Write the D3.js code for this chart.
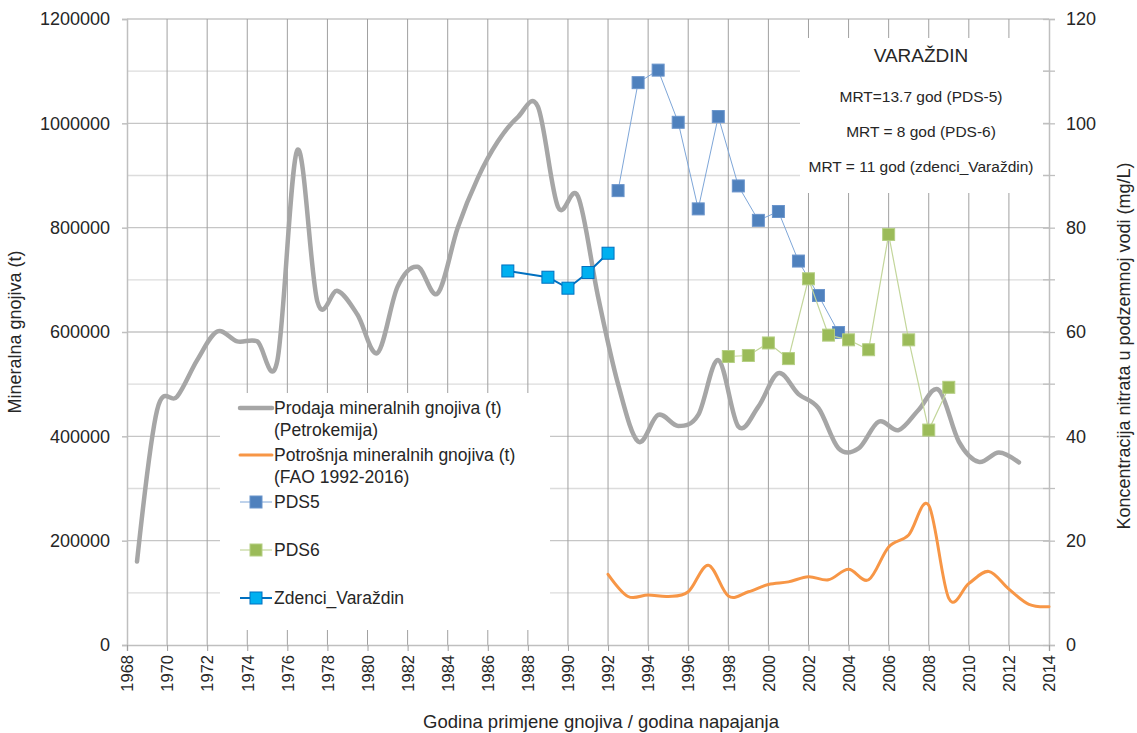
<!DOCTYPE html>
<html>
<head>
<meta charset="utf-8">
<script src="https://cdn.jsdelivr.net/npm/d3@7"></script>
<style>
  html, body { margin: 0; padding: 0; background: #fff; }
  svg { display: block; font-family: "Liberation Sans", Arial, sans-serif; }
</style>
</head>
<body>
<svg id="chart" width="1137" height="733"></svg>
<script>
// Sales of mineral fertiliser (Petrokemija), tonnes, mid-year points 1968.5–2012.5
const salesYears = d3.range(1968.5, 2013, 1);
const salesValues = [
  160000, 450000, 476000, 546000, 601000, 582000, 582000, 545000, 949000, 658000,
  679000, 633000, 560000, 687000, 725000, 674000, 800000, 895000, 965000, 1012000,
  1032000, 840000, 860000, 668000, 500000, 390000, 441000, 420000, 441000, 546000,
  419000, 457000, 521000, 481000, 454000, 377000, 377000, 428000, 412000, 451000,
  489000, 390000, 351000, 369000, 350000
];

// Fertiliser consumption (FAO), tonnes, 1992–2014
const faoYears = d3.range(1992, 2015, 1);
const faoValues = [
  135500, 93000, 96000, 93000, 102000, 153000, 94000, 102000, 116000, 121000,
  131000, 125000, 145000, 125000, 188000, 211000, 268000, 89500, 118000, 141000,
  107000, 78000, 73500
];

// Nitrate concentration in groundwater, mg/L
const pds5Years = d3.range(1992.5, 2004, 1);
const pds5Values = [87.1, 107.8, 110.2, 100.2, 83.6, 101.3, 88.0, 81.4, 83.1, 73.6, 67.0, 59.9];

const pds6Years = d3.range(1998, 2010, 1);
const pds6Values = [55.3, 55.5, 57.9, 54.9, 70.2, 59.4, 58.5, 56.6, 78.7, 58.5, 41.2, 49.4];

const wellYears = [1987, 1989, 1990, 1991, 1992];
const wellValues = [71.7, 70.5, 68.4, 71.4, 75.1];

// Axis ticks
const xTicks = d3.range(1968, 2015, 2);
const leftTicks = d3.range(0, 1200001, 200000);
const rightTicks = d3.range(0, 121, 20);

// Text
const legendLabels = [
  ["Prodaja mineralnih gnojiva (t)", "(Petrokemija)"],
  ["Potrošnja mineralnih gnojiva (t)", "(FAO 1992-2016)"],
  ["PDS5"],
  ["PDS6"],
  ["Zdenci_Varaždin"]
];
const boxTitle = "VARAŽDIN";
const boxLines = ["MRT=13.7 god (PDS-5)", "MRT = 8 god (PDS-6)", "MRT = 11 god (zdenci_Varaždin)"];

const svg = d3.select("#chart");
const m = { left: 127, right: 1049, top: 19, bottom: 645 };
const ink = "#262626";

const x = d3.scaleLinear().domain([1968, 2014]).range([m.left, m.right]);
const yL = d3.scaleLinear().domain([0, 1200000]).range([m.bottom, m.top]);
const yR = d3.scaleLinear().domain([0, 120]).range([m.bottom, m.top]);

// Horizontal gridlines every 100000
svg.append("g").selectAll("line")
  .data(d3.range(100000, 1200001, 100000))
  .join("line")
  .attr("x1", m.left).attr("x2", m.right)
  .attr("y1", d => yL(d)).attr("y2", d => yL(d))
  .attr("stroke", d => d % 200000 === 0 ? "#c6c6c6" : "#dcdcdc")
  .attr("stroke-width", 1.3);

// Vertical gridlines every two years
svg.append("g").selectAll("line")
  .data(xTicks.slice(1, -1))
  .join("line")
  .attr("x1", d => x(d)).attr("x2", d => x(d))
  .attr("y1", m.top).attr("y2", m.bottom)
  .attr("stroke", "#a0a0a0")
  .attr("stroke-width", 1);

// Left axis
const gL = svg.append("g").attr("transform", `translate(${m.left},0)`)
  .call(d3.axisLeft(yL).tickValues(leftTicks).tickFormat(d3.format("d")).tickSize(5).tickPadding(12));
gL.select(".domain").attr("stroke", "#bfbfbf").attr("stroke-width", 1.5);
gL.selectAll(".tick line").attr("stroke", "#bfbfbf").attr("stroke-width", 1.5);
gL.selectAll(".tick text").attr("font-size", 18).attr("fill", ink)
  .attr("font-family", "Liberation Sans, Arial, sans-serif");

// Right axis with minor ticks
const gR = svg.append("g").attr("transform", `translate(${m.right},0)`)
  .call(d3.axisRight(yR).tickValues(rightTicks).tickSize(6).tickPadding(11));
gR.select(".domain").attr("stroke", "#bfbfbf").attr("stroke-width", 1.5);
gR.selectAll(".tick line").attr("stroke", "#bfbfbf").attr("stroke-width", 1.3).attr("x1", -6);
gR.selectAll(".tick text").attr("font-size", 18).attr("fill", ink)
  .attr("font-family", "Liberation Sans, Arial, sans-serif");
gR.append("g").selectAll("line")
  .data(d3.range(10, 120, 20))
  .join("line")
  .attr("x1", -6).attr("x2", 6)
  .attr("y1", d => yR(d)).attr("y2", d => yR(d))
  .attr("stroke", "#bfbfbf").attr("stroke-width", 1.3);

// Bottom axis with rotated year labels
const gB = svg.append("g").attr("transform", `translate(0,${m.bottom})`)
  .call(d3.axisBottom(x).tickValues(xTicks).tickFormat(d3.format("d")).tickSize(6).tickPadding(10));
gB.select(".domain").attr("stroke", "#bfbfbf").attr("stroke-width", 1.5);
gB.selectAll(".tick line").attr("stroke", "#a0a0a0").attr("stroke-width", 1);
gB.selectAll(".tick text")
  .attr("font-size", 16.5).attr("fill", ink)
  .attr("font-family", "Liberation Sans, Arial, sans-serif")
  .attr("text-anchor", "end")
  .attr("transform", "rotate(-90)")
  .attr("x", -10).attr("y", 0).attr("dy", "0.35em");

// Axis titles
svg.append("text")
  .attr("transform", `translate(21,${(m.top + m.bottom) / 2}) rotate(-90)`)
  .attr("text-anchor", "middle").attr("font-size", 18).attr("fill", ink)
  .text("Mineralna gnojiva (t)");
svg.append("text")
  .attr("transform", `translate(1130,${(m.top + m.bottom) / 2 + 14}) rotate(-90)`)
  .attr("text-anchor", "middle").attr("font-size", 18).attr("fill", ink)
  .text("Koncentracija nitrata u podzemnoj vodi (mg/L)");
svg.append("text")
  .attr("x", 601).attr("y", 728)
  .attr("text-anchor", "middle").attr("font-size", 18.5).attr("fill", ink)
  .text("Godina primjene gnojiva / godina napajanja");

// Text box with MRT values
const tb = svg.append("g");
tb.append("rect").attr("x", 800).attr("y", 38).attr("width", 243).attr("height", 155).attr("fill", "#fff");
tb.append("text").attr("x", 921).attr("y", 62).attr("text-anchor", "middle")
  .attr("font-size", 19).attr("fill", ink).text(boxTitle);
tb.selectAll("text.mrt").data(boxLines).join("text").attr("class", "mrt")
  .attr("x", 921).attr("y", (d, i) => 102 + i * 35)
  .attr("text-anchor", "middle").attr("font-size", 15.5).attr("fill", ink)
  .text(d => d);

// Lines
const smooth = d3.curveCardinal.tension(0);
const salesLine = d3.line().x((d, i) => x(salesYears[i])).y(d => yL(d)).curve(smooth);
const faoLine = d3.line().x((d, i) => x(faoYears[i])).y(d => yL(d)).curve(smooth);

svg.append("path").datum(salesValues).attr("d", salesLine)
  .attr("fill", "none").attr("stroke", "#a6a6a6").attr("stroke-width", 4.5)
  .attr("stroke-linejoin", "round").attr("stroke-linecap", "round");
svg.append("path").datum(faoValues).attr("d", faoLine)
  .attr("fill", "none").attr("stroke", "#f79646").attr("stroke-width", 3)
  .attr("stroke-linejoin", "round").attr("stroke-linecap", "round");

function markerSeries(years, values, lineColor, lineWidth, fill, stroke, size) {
  const g = svg.append("g");
  const ln = d3.line().x((d, i) => x(years[i])).y(d => yR(d));
  g.append("path").datum(values).attr("d", ln)
    .attr("fill", "none").attr("stroke", lineColor).attr("stroke-width", lineWidth);
  g.selectAll("rect").data(values).join("rect")
    .attr("x", (d, i) => x(years[i]) - size / 2)
    .attr("y", d => yR(d) - size / 2)
    .attr("width", size).attr("height", size)
    .attr("fill", fill).attr("stroke", stroke).attr("stroke-width", 1);
}
markerSeries(pds5Years, pds5Values, "#7ea6d8", 1, "#4f81bd", "#6b95cc", 12);
markerSeries(pds6Years, pds6Values, "#c3d69b", 1.2, "#9bbb59", "#b5cf84", 12);
markerSeries(wellYears, wellValues, "#0070c0", 2, "#00b0f0", "#0070c0", 12);

// Legend
const lg = svg.append("g");
lg.append("rect").attr("x", 220).attr("y", 393).attr("width", 330).attr("height", 237).attr("fill", "#fff");
const rowY = [408, 455, 502, 550, 598];
const swatchX0 = 240, swatchX1 = 272, textX = 274;
lg.append("line").attr("x1", swatchX0).attr("x2", swatchX1).attr("y1", rowY[0]).attr("y2", rowY[0])
  .attr("stroke", "#a6a6a6").attr("stroke-width", 4.5).attr("stroke-linecap", "round");
lg.append("line").attr("x1", swatchX0).attr("x2", swatchX1).attr("y1", rowY[1]).attr("y2", rowY[1])
  .attr("stroke", "#f79646").attr("stroke-width", 3).attr("stroke-linecap", "round");
const mk = [
  ["#7ea6d8", 1, "#4f81bd", "#6b95cc"],
  ["#c3d69b", 1.2, "#9bbb59", "#b5cf84"],
  ["#0070c0", 2, "#00b0f0", "#0070c0"]
];
mk.forEach((s, k) => {
  const yy = rowY[k + 2];
  lg.append("line").attr("x1", swatchX0).attr("x2", swatchX1).attr("y1", yy).attr("y2", yy)
    .attr("stroke", s[0]).attr("stroke-width", s[1]);
  lg.append("rect").attr("x", (swatchX0 + swatchX1) / 2 - 6).attr("y", yy - 6)
    .attr("width", 12).attr("height", 12).attr("fill", s[2]).attr("stroke", s[3]);
});
legendLabels.forEach((lines, k) => {
  const t = lg.append("text").attr("x", textX).attr("y", rowY[k])
    .attr("font-size", 17.5).attr("fill", ink);
  lines.forEach((s, j) => {
    t.append("tspan").attr("x", textX).attr("dy", j === 0 ? "0.35em" : "1.25em").text(s);
  });
});
</script>
</body>
</html>
